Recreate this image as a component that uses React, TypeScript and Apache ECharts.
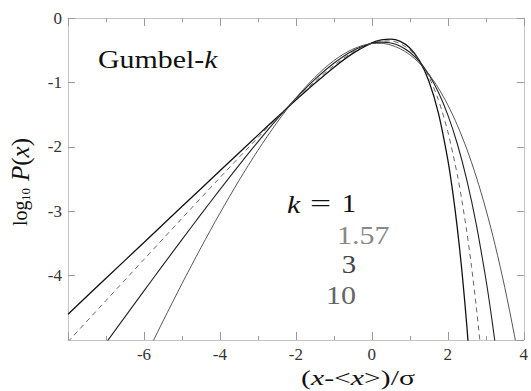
import { useEffect, useRef } from "react";
import * as echarts from "echarts";

const SERIF = "Liberation Serif, Times New Roman, serif";

// Standardised Gumbel-k densities, log10 P(x) against (x - <x>)/sigma
const kLabels = ["1", "1.57", "3", "10"];

const xK1 = [-8, -7, -6, -5, -4, -3, -2.5, -2, -1.5, -1, -0.5, 0, 0.25, 0.5, 0.75, 1, 1.25, 1.5, 1.75, 2, 2.125, 2.25, 2.375, 2.5, 2.6];
const yK1 = [-4.599, -4.042, -3.485, -2.928, -2.372, -1.819, -1.545, -1.275, -1.014, -0.767, -0.55, -0.387, -0.339, -0.327, -0.363, -0.465, -0.658, -0.977, -1.469, -2.199, -2.681, -3.258, -3.948, -4.771, -5.539];

const xK157 = [-8, -7, -6, -5, -4, -3, -2.5, -2, -1.5, -1, -0.5, 0, 0.25, 0.5, 0.75, 1, 1.25, 1.5, 1.75, 2, 2.25, 2.375, 2.5, 2.625, 2.75, 2.85];
const yK157 = [-5.027, -4.387, -3.749, -3.112, -2.479, -1.857, -1.554, -1.262, -0.986, -0.737, -0.529, -0.389, -0.356, -0.357, -0.4, -0.496, -0.66, -0.91, -1.268, -1.764, -2.432, -2.845, -3.319, -3.862, -4.483, -5.042];

const xK3 = [-7, -6.5, -6, -5.5, -5, -4.5, -4, -3.5, -3, -2.5, -2, -1.5, -1, -0.5, 0, 0.25, 0.5, 0.75, 1, 1.25, 1.5, 1.75, 2, 2.25, 2.5, 2.75, 3, 3.125, 3.25];
const yK3 = [-5.045, -4.641, -4.238, -3.838, -3.442, -3.05, -2.664, -2.287, -1.923, -1.575, -1.249, -0.954, -0.702, -0.508, -0.393, -0.375, -0.387, -0.437, -0.531, -0.674, -0.878, -1.15, -1.504, -1.953, -2.513, -3.203, -4.045, -4.53, -5.065];

const xK10 = [-6, -5.8, -5.5, -5, -4.5, -4, -3.5, -3, -2.5, -2, -1.5, -1, -0.5, 0, 0.25, 0.5, 0.75, 1, 1.25, 1.5, 1.75, 2, 2.25, 2.5, 2.75, 3, 3.25, 3.5, 3.75, 4];
const yK10 = [-5.31, -5.068, -4.709, -4.127, -3.567, -3.031, -2.526, -2.055, -1.626, -1.244, -0.92, -0.662, -0.484, -0.397, -0.394, -0.42, -0.478, -0.57, -0.7, -0.871, -1.086, -1.349, -1.663, -2.034, -2.466, -2.965, -3.535, -4.183, -4.915, -5.739];

const curves = [
  { xs: xK1, ys: yK1, color: "#111111", width: 1.3, dash: "solid" },
  { xs: xK157, ys: yK157, color: "#666666", width: 1, dash: [5, 4] },
  { xs: xK3, ys: yK3, color: "#222222", width: 1.1, dash: "solid" },
  { xs: xK10, ys: yK10, color: "#444444", width: 0.9, dash: "solid" },
];

export default function App() {
  const ref = useRef<HTMLDivElement>(null);

  useEffect(() => {
    document.body.style.margin = "0";
    const chart = echarts.init(ref.current!, null, { renderer: "svg" });

    const frameLine = { show: true, onZero: false, lineStyle: { color: "#c4c4c4", width: 1 } };
    const tickStyle = { color: "#9a9a9a", width: 1 };
    const xBase = {
      type: "value",
      min: -8,
      max: 4,
      interval: 2,
      axisLine: frameLine,
      splitLine: { show: false },
      axisTick: { show: true, inside: true, length: 8, lineStyle: tickStyle },
      minorTick: { show: true, splitNumber: 2, length: 4, lineStyle: tickStyle },
    };
    const yBase = {
      type: "value",
      min: -5,
      max: 0,
      interval: 1,
      axisLine: frameLine,
      splitLine: { show: false },
      axisTick: { show: true, inside: true, length: 7, lineStyle: tickStyle },
    };
    const tickFont = { color: "#333", fontFamily: SERIF, fontSize: 17 };

    const legendRows = [
      { text: kLabels[0], x: 349, y: 204, align: "center", fill: "#111", sx: 1.15 },
      { text: kLabels[1], x: 337, y: 235, align: "left", fill: "#888", sx: 1.2 },
      { text: kLabels[2], x: 349, y: 265, align: "center", fill: "#444", sx: 1.15 },
      { text: kLabels[3], x: 341, y: 295, align: "center", fill: "#666", sx: 1.2 },
    ];

    chart.setOption({
      animation: false,
      grid: { left: 68, right: 4, top: 18, bottom: 51 },
      xAxis: [
        {
          ...xBase,
          position: "bottom",
          axisLabel: {
            ...tickFont,
            margin: 6,
            formatter: (v: number) => (v === -8 ? "" : String(v)),
          },
        },
        { ...xBase, position: "top", axisLabel: { show: false } },
      ],
      yAxis: [
        {
          ...yBase,
          position: "left",
          axisLabel: { ...tickFont, margin: 6, showMinLabel: false },
        },
        { ...yBase, position: "right", axisLabel: { show: false } },
      ],
      series: curves.map((c) => ({
        type: "line",
        xAxisIndex: 0,
        yAxisIndex: 0,
        data: c.xs.map((x, i) => [x, c.ys[i]]),
        showSymbol: false,
        symbol: "none",
        smooth: 0.3,
        clip: true,
        silent: true,
        lineStyle: { color: c.color, width: c.width, type: c.dash },
      })),
      graphic: [
        {
          type: "text",
          x: 98,
          y: 59,
          scaleX: 1.15,
          style: {
            text: "{n|Gumbel-}{i|k}",
            align: "left",
            verticalAlign: "middle",
            rich: {
              n: { fontFamily: SERIF, fontSize: 26, fill: "#111" },
              i: { fontFamily: SERIF, fontSize: 26, fontStyle: "italic", fill: "#111" },
            },
          },
        },
        {
          type: "text",
          x: 287,
          y: 204,
          scaleX: 1.2,
          style: { text: "k", fontFamily: SERIF, fontSize: 25, fontStyle: "italic", fill: "#111", align: "left", verticalAlign: "middle" },
        },
        {
          type: "text",
          x: 310,
          y: 204,
          scaleX: 1.5,
          style: { text: "=", fontFamily: SERIF, fontSize: 25, fill: "#111", align: "left", verticalAlign: "middle" },
        },
        ...legendRows.map((r) => ({
          type: "text",
          x: r.x,
          y: r.y,
          scaleX: r.sx,
          style: { text: r.text, fontFamily: SERIF, fontSize: 25, fill: r.fill, align: r.align, verticalAlign: "middle" },
        })),
        {
          type: "text",
          x: 358,
          y: 378,
          scaleX: 1.35,
          style: {
            text: "{n|(}{i|x}{n|-<}{i|x}{n|>)/σ}",
            align: "center",
            verticalAlign: "middle",
            rich: {
              n: { fontFamily: SERIF, fontSize: 22, fill: "#111" },
              i: { fontFamily: SERIF, fontSize: 22, fontStyle: "italic", fill: "#111" },
            },
          },
        },
        {
          type: "group",
          x: 20,
          y: 226,
          rotation: Math.PI / 2,
          children: [
            {
              type: "text",
              x: 0,
              y: 0,
              style: { text: "log", fontFamily: SERIF, fontSize: 20, fill: "#111", align: "left", verticalAlign: "middle" },
            },
            {
              type: "text",
              x: 25,
              y: 5,
              style: { text: "10", fontFamily: SERIF, fontSize: 13, fill: "#111", align: "left", verticalAlign: "middle" },
            },
            {
              type: "text",
              x: 45,
              y: 0,
              style: {
                text: "{i|P}{n|(}{i|x}{n|)}",
                align: "left",
                verticalAlign: "middle",
                rich: {
                  n: { fontFamily: SERIF, fontSize: 25, fill: "#111" },
                  i: { fontFamily: SERIF, fontSize: 25, fontStyle: "italic", fill: "#111" },
                },
              },
            },
          ],
        },
      ],
    });

    return () => chart.dispose();
  }, []);

  return <div ref={ref} style={{ width: 531, height: 391 }} />;
}
